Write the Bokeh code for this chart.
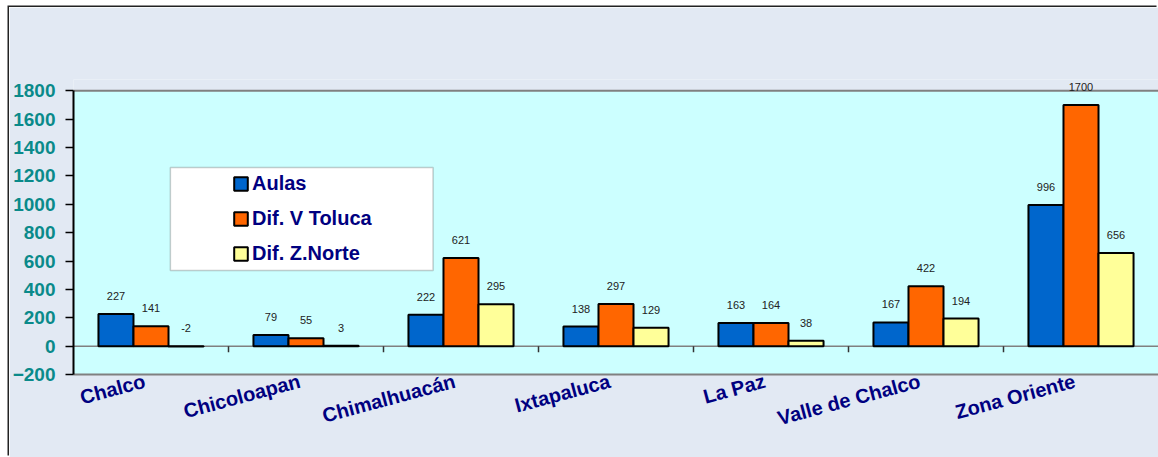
import math
from bokeh.plotting import figure
from bokeh.models import (ColumnDataSource, Range1d, LabelSet, Legend, LegendItem,
                          BoxAnnotation, Span, SingleIntervalTicker, LinearAxis, FixedTicker)
from bokeh.core.properties import value
from bokeh.transform import dodge
from bokeh.embed import file_html
from bokeh.resources import INLINE

categories = ["Chalco", "Chicoloapan", "Chimalhuacán", "Ixtapaluca", "La Paz",
              "Valle de Chalco", "Zona Oriente"]
aulas = [227, 79, 222, 138, 163, 167, 996]
dif_v_toluca = [141, 55, 621, 297, 164, 422, 1700]
dif_z_norte = [-2, 3, 295, 129, 38, 194, 656]
series_names = ["Aulas", "Dif. V Toluca", "Dif. Z.Norte"]
series_colors = ["#0066cc", "#ff6600", "#ffff99"]
y_min, y_max, y_step = -200, 1800, 200

FONT = "Liberation Sans"
BG = "#e2e9f3"
n = len(categories)
centres = [i + 0.5 for i in range(n)]   # category slots on a numeric axis

source = ColumnDataSource(dict(
    xc=centres, cat=categories,
    s0=aulas, s1=dif_v_toluca, s2=dif_z_norte,
    t0=[str(v) for v in aulas], t1=[str(v) for v in dif_v_toluca], t2=[str(v) for v in dif_z_norte],
))

p = figure(width=1149, height=450, output_backend="svg", toolbar_location=None, tools=[],
           x_range=Range1d(0, n), y_range=Range1d(y_min, 1880), x_axis_location=None,
           min_border_left=63, min_border_right=0, min_border_top=72, min_border_bottom=83,
           styles={"margin-left": "9px", "margin-top": "7px",
                   "box-shadow": "-1.5px -1.5px 0px 0px #222222"})

p.background_fill_color = BG
p.border_fill_color = BG
p.outline_line_color = None
p.xgrid.visible = False
p.ygrid.visible = False

# plotting area (up to the top of the value axis)
p.add_layout(BoxAnnotation(top=y_max, fill_color="#ccffff", fill_alpha=1, line_color=None, level="underlay"))
p.add_layout(Span(location=y_max, dimension="width", line_color="#808080", line_width=2, level="underlay"))
p.add_layout(Span(location=0, dimension="width", line_color="#808080", line_width=1.5, level="underlay"))

bw = 0.226
offsets = [-bw, 0.0, bw]
renderers = []
for i, (name, col) in enumerate(zip(series_names, series_colors)):
    r = p.vbar(x=dodge("xc", offsets[i]), top="s%d" % i, bottom=0,
               width=bw, source=source, fill_color=col, line_color="black", line_width=2)
    renderers.append(r)
    labels = LabelSet(x=dodge("xc", offsets[i]), y="s%d" % i, text="t%d" % i,
                      source=source, text_align="center", text_baseline="bottom", y_offset=14,
                      text_font=value(FONT), text_font_size="11px", text_color="#222222")
    p.add_layout(labels)

# boundary ticks on the zero line
boundaries = list(range(1, n))
p.ray(x=boundaries, y=[0] * len(boundaries), length=6, length_units="screen",
      angle=-math.pi / 2, line_color="#333333", line_width=1.5)

# y axis
p.yaxis.ticker = SingleIntervalTicker(interval=y_step)
p.yaxis.bounds = (y_min, y_max)
p.yaxis.minor_tick_line_color = None
p.yaxis.major_tick_in = 0
p.yaxis.major_tick_out = 8
p.yaxis.axis_line_color = "black"
p.yaxis.axis_line_width = 2
p.yaxis.major_tick_line_width = 1.5
p.yaxis.major_label_standoff = 10
p.yaxis.major_label_text_font = FONT
p.yaxis.major_label_text_font_size = "19px"
p.yaxis.major_label_text_font_style = "bold"
p.yaxis.major_label_text_color = "#0a8a8a"

# category axis (labels end slightly left of each category centre, as in the original)
label_shift = 0.04
p.extra_x_ranges = {"labels": Range1d(label_shift, n + label_shift)}
xaxis = LinearAxis(x_range_name="labels", ticker=FixedTicker(ticks=centres),
                   major_label_overrides={c: name for c, name in zip(centres, categories)},
                   axis_line_color="#808080", axis_line_width=2,
                   major_tick_line_color=None, minor_tick_line_color=None,
                   major_label_orientation=math.radians(15), major_label_standoff=0,
                   major_label_text_font=FONT, major_label_text_font_size="20px",
                   major_label_text_font_style="bold", major_label_text_color="#000080")
p.add_layout(xaxis, "below")

# legend box
p.add_layout(BoxAnnotation(left=0.625, right=2.32, bottom=534, top=1259,
                           fill_color="white", fill_alpha=1, line_color="#555555", line_width=1.5,
                           level="overlay"))
legend = Legend(items=[LegendItem(label=nm, renderers=[r]) for nm, r in zip(series_names, renderers)],
                location=(159, 109), padding=0, margin=0, spacing=12,
                glyph_width=17, glyph_height=17, label_height=17, label_standoff=3,
                background_fill_alpha=0, border_line_color=None,
                label_text_font=FONT, label_text_font_size="20px", label_text_font_style="bold",
                label_text_color="#000080")
p.add_layout(legend, "center")

open("out.html", "w").write(file_html(p, INLINE))
